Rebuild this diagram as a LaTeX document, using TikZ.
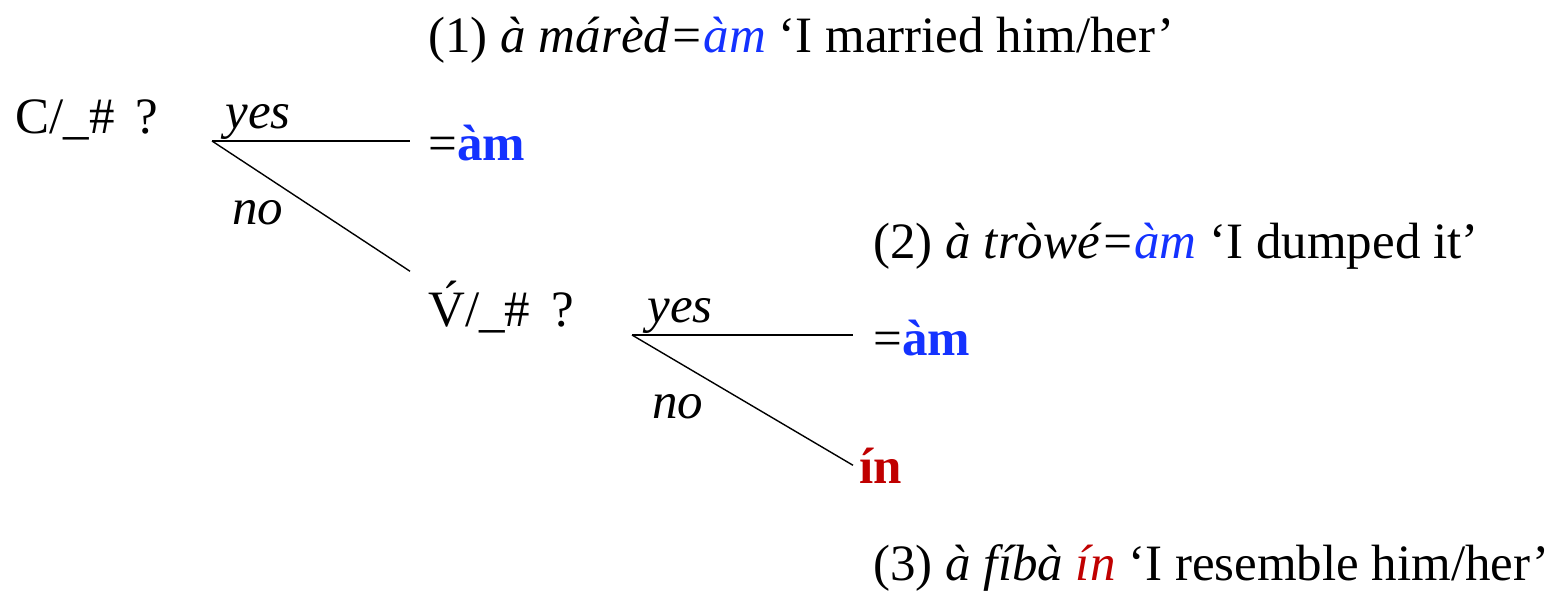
\documentclass[tikz,border=0pt]{standalone}
\usepackage{fontspec}
\setmainfont{Liberation Serif}
\usepackage{xcolor}
\usetikzlibrary{positioning}
\definecolor{formblue}{RGB}{20,50,255}
\definecolor{formred}{RGB}{192,0,0}
\tikzset{
  branch/.style={line width=0.7pt, draw=black},
  question/.style={anchor=base west, inner sep=0pt, font=\fontsize{25.5}{30}\selectfont},
  result/.style={anchor=base west, inner ysep=7pt, font=\fontsize{25.5}{30}\selectfont},
  answer/.style={anchor=base west, inner sep=0pt, font=\fontsize{25.5}{30}\selectfont\itshape},
  example/.style={anchor=base west, inner sep=0pt, font=\fontsize{25.5}{30}\selectfont}
}
\newcommand{\blueform}[1]{\textcolor{formblue}{#1}}
\newcommand{\redform}[1]{\textcolor{formred}{#1}}

\begin{document}
\begin{tikzpicture}[x=0.5pt, y=-0.5pt]
  \useasboundingbox (0,0) rectangle (1553,590);

  % first question
  \node[question] (q1) at (15,133) {C/\_\# \,?};
  \coordinate (fork1) at (212,141);
  \node[result, inner xsep=9pt] (am1) at (410,160) {=\textbf{\blueform{àm}}};
  \node[result, inner xsep=9pt, inner ysep=4.5pt] (q2) at (410,326) {V\char"0301/\_\# \,?};
  \node[answer] (yes1) at (225,128) {yes};
  \node[answer] (no1) at (232,224) {no};
  \draw[branch] (fork1) -- (fork1 -| am1.west);
  \draw[branch] (fork1) -- (q2.north west);

  % second question
  \coordinate (fork2) at (632,335);
  \node[result, inner xsep=10pt] (am2) at (853,355) {=\textbf{\blueform{àm}}};
  \node[result, inner xsep=3pt] (in2) at (853,483) {\textbf{\redform{ín}}};
  \node[answer] (yes2) at (647,322) {yes};
  \node[answer] (no2) at (652,418) {no};
  \draw[branch] (fork2) -- (fork2 -| am2.west);
  \draw[branch] (fork2) -- (in2.west);

  % examples
  \node[example] (ex1) at (428,52) {(1) \textit{à márèd=\blueform{àm}} ‘I married him/her’};
  \node[example] (ex2) at (873,258) {(2) \textit{à tròwé=\blueform{àm}} ‘I dumped it’};
  \node[example] (ex3) at (873,580) {(3) \textit{à fíbà \redform{ín}} ‘I resemble him/her’};
\end{tikzpicture}
\end{document}
